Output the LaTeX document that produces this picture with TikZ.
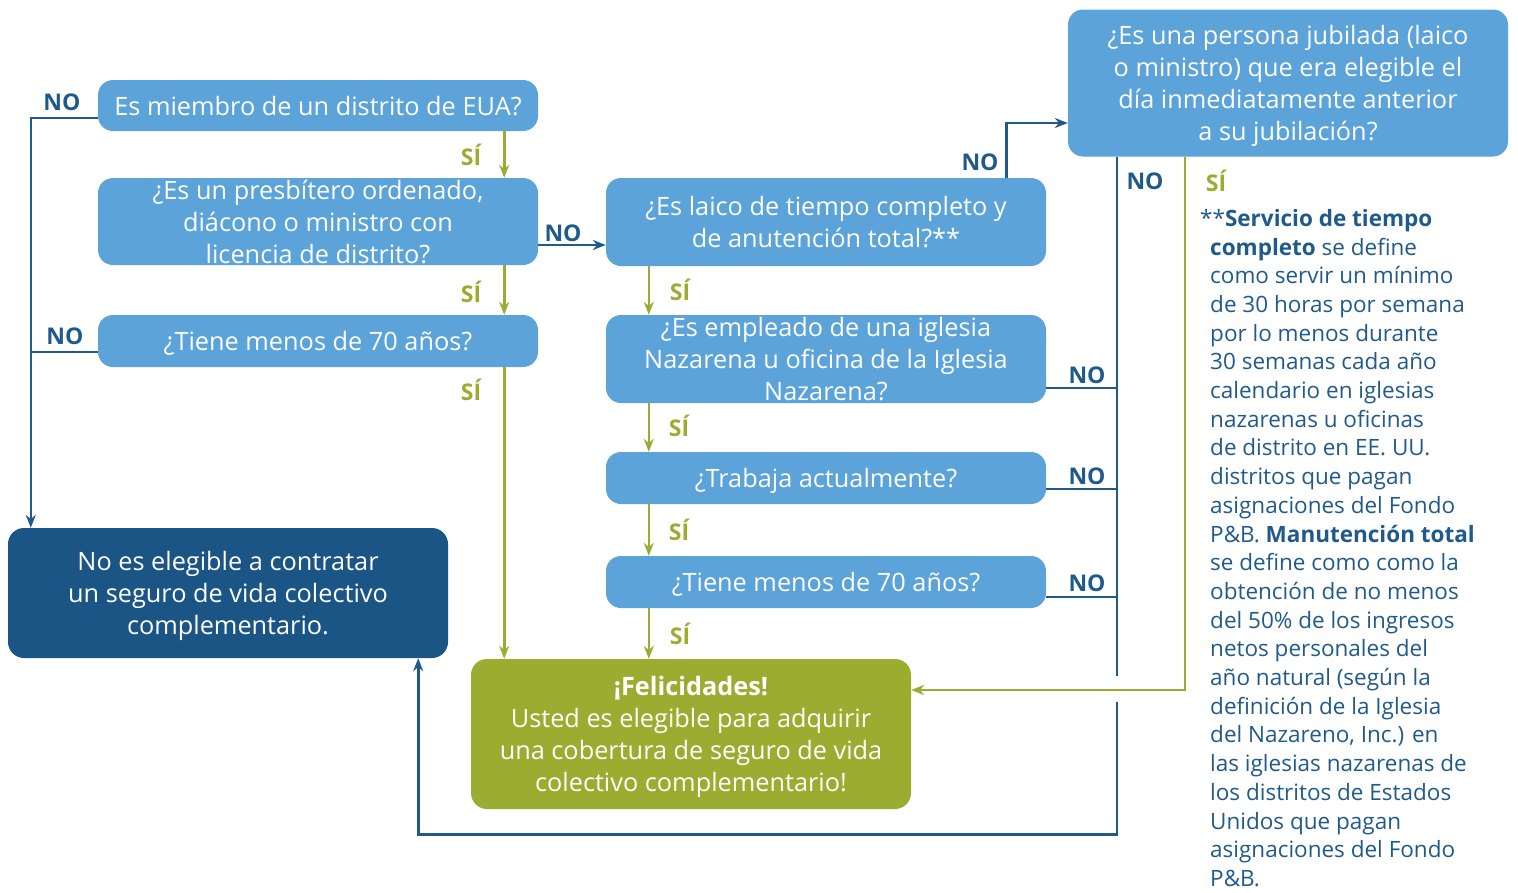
\documentclass[tikz,border=0pt]{standalone}
\usepackage{fontspec}
\setmainfont{Open Sans}
\usepackage{tikz}
\usetikzlibrary{calc,arrows.meta}
\definecolor{qblue}{HTML}{5BA3D9}
\definecolor{dblue}{HTML}{1B5585}
\definecolor{lblue}{HTML}{1F5A8B}
\definecolor{sgreen}{HTML}{9AAD30}

\begin{document}
\begin{tikzpicture}[x=1pt, y=-1pt,
    >={Stealth[length=13pt,width=10pt]},
    QB/.style={rectangle, rounded corners=15pt, fill=qblue, text=white, inner sep=0pt, minimum width=440pt, align=center, text depth=0pt, font=\fontsize{25.3}{32}\selectfont},
    NOL/.style={draw=lblue, line width=2.6pt},
    YSL/.style={draw=sgreen, line width=2.6pt},
    NOT/.style={text=lblue, font=\fontsize{23}{28}\selectfont\bfseries, inner sep=0pt},
    YST/.style={text=sgreen, font=\fontsize{23}{28}\selectfont\bfseries, inner sep=0pt}
    ]
        \useasboundingbox (0,0) rectangle (1518,892);
        % left column
        \node[QB, minimum height=51pt] (B1) at (318,105.5) {Es miembro de un distrito de EUA?};
        \node[QB, minimum height=87pt] (B2) at (318,221.5) {¿Es un presbítero ordenado,\\diácono o ministro con\\licencia de distrito?};
        \node[QB, minimum height=52pt] (B3) at (318,341) {¿Tiene menos de 70 años?};
        \node[QB, fill=dblue, minimum height=130pt, rounded corners=16pt] (NE) at (228,593) {No es elegible a contratar\\un seguro de vida colectivo\\complementario.};
        % middle column
        \node[QB, minimum height=88pt] (C1) at (826,222) {¿Es laico de tiempo completo y\\de anutención total?**};
        \node[QB, minimum height=88pt] (C2) at (826,359) {¿Es empleado de una iglesia\\Nazarena u oficina de la Iglesia\\Nazarena?};
        \node[QB, minimum height=52pt] (C3) at (826,478) {¿Trabaja actualmente?};
        \node[QB, minimum height=52pt] (C4) at (826,582) {¿Tiene menos de 70 años?};
        \node[QB, fill=sgreen, minimum height=150pt, rounded corners=16pt] (G) at (691,734) {\textbf{¡Felicidades!}\\Usted es elegible para adquirir\\una cobertura de seguro de vida\\colectivo complementario!};
        % right column
        \node[QB, minimum height=147pt] (J) at (1288,83) {¿Es una persona jubilada (laico\\o ministro) que era elegible el\\día inmediatamente anterior\\a su jubilación?};
        \coordinate (vx) at ($(J.south west)+(49,0)$);

        % NO connectors
        \draw[NOL,->] ($(B1.west)+(0,12.5)$) -| ($(NE.north west)+(23,0)$);
        \draw[NOL] ($(B3.west)+(0,11)$) -- ($(B3.west)+(-67,11)$);
        \draw[NOL,->] ($(B2.east)+(0,23.5)$) coordinate (n2) -- (n2 -| C1.west);
        \draw[NOL,->] ($(C1.north east)+(-40,0)$) |- ($(J.west)+(0,40)$);
        \draw[NOL] (vx) -- ($(vx)+(0,519)$);
        \draw[NOL,->] ($(vx)+(0,545)$) -- ($(vx)+(0,678)$) -| ($(NE.south east)+(-30,0)$);
        \draw[NOL] ($(C2.east)+(0,29)$) coordinate (n5) -- (n5 -| vx);
        \draw[NOL] ($(C3.east)+(0,11)$) coordinate (n6) -- (n6 -| vx);
        \draw[NOL] ($(C4.east)+(0,15)$) coordinate (n7) -- (n7 -| vx);

        % SI connectors
        \draw[YSL,->] ($(B1.south east)+(-34,0)$) coordinate (s1) -- (s1 |- B2.north);
        \draw[YSL,->] ($(B2.south east)+(-34,0)$) coordinate (s2) -- (s2 |- B3.north);
        \draw[YSL,->] ($(B3.south east)+(-34,0)$) coordinate (s3) -- (s3 |- G.north);
        \draw[YSL,->] ($(C1.south west)+(43,0)$) coordinate (c1) -- (c1 |- C2.north);
        \draw[YSL,->] ($(C2.south west)+(43,0)$) coordinate (c2) -- (c2 |- C3.north);
        \draw[YSL,->] ($(C3.south west)+(43,0)$) coordinate (c3) -- (c3 |- C4.north);
        \draw[YSL,->] ($(C4.south west)+(43,0)$) coordinate (c4) -- (c4 |- G.north);
        \draw[YSL,->] ($(J.south west)+(117,0)$) |- ($(G.east)+(0,-44)$);

        % labels
        \node[NOT] (no1) at (62,102) {NO};
        \node[NOT] (no2) at (65,336) {NO};
        \node[NOT] (no3) at (563,233) {NO};
        \node[NOT] (no4) at (980,162) {NO};
        \node[NOT] (no5) at (1087,375) {NO};
        \node[NOT] (no6) at (1087,476) {NO};
        \node[NOT] (no7) at (1087,583) {NO};
        \node[NOT] (no8) at (1145,181) {NO};
        \node[YST] (si1) at (471,155) {SÍ};
        \node[YST] (si2) at (471,292) {SÍ};
        \node[YST] (si3) at (471,390) {SÍ};
        \node[YST] (si4) at (680,290) {SÍ};
        \node[YST] (si5) at (679,426) {SÍ};
        \node[YST] (si6) at (679,530) {SÍ};
        \node[YST] (si7) at (680,634) {SÍ};
        \node[YST] (si8) at (1216,181) {SÍ};

        % footnote
        \node[anchor=north west, inner sep=0pt, align=left, text=lblue, font=\fontsize{22.5}{28.7}\selectfont] (fn) at (1210,209) {%
            \hspace*{-10pt}**\textbf{Servicio de tiempo}\\
            \textbf{completo} se define\\
            como servir un mínimo\\
            de 30 horas por semana\\
            por lo menos durante\\
            30 semanas cada año\\
            calendario en iglesias\\
            nazarenas u oficinas\\
            de distrito en EE. UU.\\
            distritos que pagan\\
            asignaciones del Fondo\\
            P\&B. \textbf{Manutención total}\\
            se define como como la\\
            obtención de no menos\\
            del 50\% de los ingresos\\
            netos personales del\\
            año natural (según la\\
            definición de la Iglesia\\
            del Nazareno, Inc.) en\\
            las iglesias nazarenas de\\
            los distritos de Estados\\
            Unidos que pagan\\
            asignaciones del Fondo\\
            P\&B.};
    \end{tikzpicture}
\end{document}
